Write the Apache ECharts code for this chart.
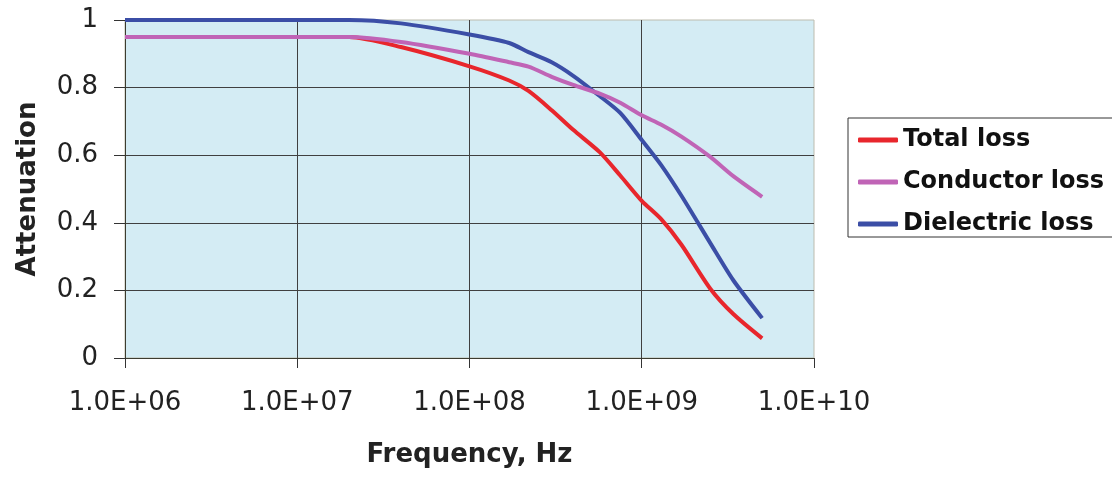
<!DOCTYPE html>
<html>
<head>
<meta charset="utf-8">
<title>Attenuation vs frequency</title>
<script src="https://cdn.jsdelivr.net/npm/echarts@6/dist/echarts.min.js"></script>
<style>
  html, body { margin: 0; padding: 0; background: #fff; }
  #chart { width: 1112px; height: 478px; }
</style>
</head>
<body>
<div id="chart"></div>
<script>
// frequency points, Hz
const freq = [1e6, 2e6, 5e6, 1e7, 2e7, 4e7, 1e8, 1.7e8, 2.2e8, 3e8, 4e8, 5.7e8, 7.5e8, 1e9, 1.3e9, 1.7e9, 2.5e9, 3.4e9, 5e9];

const totalLoss      = [0.95, 0.95, 0.95, 0.95, 0.95, 0.92, 0.863, 0.821, 0.79, 0.733, 0.675, 0.609, 0.54, 0.465, 0.41, 0.335, 0.205, 0.13, 0.058];
const conductorLoss  = [0.95, 0.95, 0.95, 0.95, 0.95, 0.935, 0.90, 0.875, 0.862, 0.832, 0.808, 0.782, 0.755, 0.718, 0.69, 0.655, 0.595, 0.538, 0.477];
const dielectricLoss = [1.0, 1.0, 1.0, 1.0, 1.0, 0.99, 0.957, 0.932, 0.905, 0.875, 0.835, 0.775, 0.725, 0.645, 0.57, 0.48, 0.34, 0.23, 0.118];

const seriesNames = ['Total loss', 'Conductor loss', 'Dielectric loss'];
const xTicks = [1e6, 1e7, 1e8, 1e9, 1e10];
const yTicks = [0, 0.2, 0.4, 0.6, 0.8, 1];

const pairs = (ys) => freq.map((f, i) => [f, ys[i]]);

// Excel-style "1.0E+06"
const sciLabel = (v) => {
  const [m, e] = v.toExponential(1).toUpperCase().split('E');
  const sign = e[0] === '-' ? '-' : '+';
  const digits = e.replace(/[+-]/, '').padStart(2, '0');
  return `${m}E${sign}${digits}`;
};

const chart = echarts.init(document.getElementById('chart'));

const gridColor = '#404040';
const font = 'DejaVu Sans';

const lineSeries = (name, data, color, z) => ({
  name,
  type: 'line',
  data,
  symbol: 'none',
  smooth: 0.25,
  z,
  lineStyle: { color, width: 4 },
  itemStyle: { color },
});

chart.setOption({
  animation: false,
  backgroundColor: '#fff',
  grid: {
    left: 125,
    right: 298,
    top: 20,
    bottom: 120,
    show: true,
    backgroundColor: '#d4ecf4',
    borderColor: '#bdbcae',
    borderWidth: 1,
  },
  legend: {
    orient: 'vertical',
    left: 848,
    top: 118,
    padding: [10, 30, 1, 10],
    itemGap: 18,
    itemWidth: 40,
    itemHeight: 5,
    icon: 'roundRect',
    borderColor: '#333',
    borderWidth: 1,
    data: seriesNames,
    textStyle: {
      fontFamily: font,
      fontWeight: 'bold',
      fontSize: 24,
      lineHeight: 24,
      color: '#111',
    },
  },
  xAxis: {
    type: 'log',
    logBase: 10,
    min: xTicks[0],
    max: xTicks[xTicks.length - 1],
    name: 'Frequency, Hz',
    nameLocation: 'middle',
    nameGap: 84,
    nameTextStyle: { fontFamily: font, fontWeight: 'bold', fontSize: 26, color: '#222' },
    axisLine: { show: true, lineStyle: { color: '#3c3c30', width: 1 } },
    axisTick: { show: true, length: 10, lineStyle: { color: '#333' } },
    axisLabel: {
      margin: 32,
      fontFamily: font,
      fontSize: 26,
      color: '#222',
      formatter: sciLabel,
    },
    splitLine: {
      show: true,
      showMaxLine: false,
      lineStyle: { color: gridColor, width: 1 },
    },
  },
  yAxis: {
    type: 'value',
    min: yTicks[0],
    max: yTicks[yTicks.length - 1],
    interval: 0.2,
    name: 'Attenuation',
    nameLocation: 'middle',
    nameGap: 84,
    nameTextStyle: { fontFamily: font, fontWeight: 'bold', fontSize: 26, color: '#222' },
    axisLine: { show: true, lineStyle: { color: '#3c3c30', width: 1 } },
    axisTick: { show: true, length: 11, lineStyle: { color: '#333' } },
    axisLabel: {
      margin: 27,
      fontFamily: font,
      fontSize: 26,
      color: '#222',
    },
    splitLine: {
      show: true,
      showMaxLine: false,
      lineStyle: { color: gridColor, width: 1 },
    },
  },
  series: [
    lineSeries(seriesNames[0], pairs(totalLoss), '#e8262c', 2),
    lineSeries(seriesNames[1], pairs(conductorLoss), '#c064b6', 4),
    lineSeries(seriesNames[2], pairs(dielectricLoss), '#3b4ea6', 3),
  ],
});

window.addEventListener('resize', () => chart.resize());
</script>
</body>
</html>
